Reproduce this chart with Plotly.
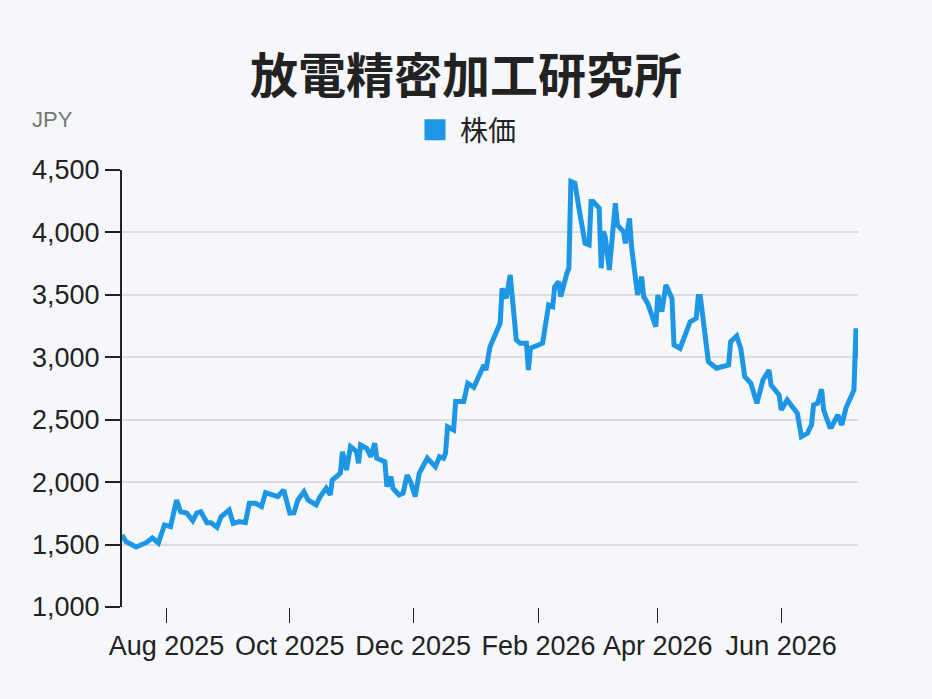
import plotly.graph_objects as go

title_text = "放電精密加工研究所"
series_name = "株価"
unit_label = "JPY"

dates = [
    "2025-07-10", "2025-07-12", "2025-07-17", "2025-07-22", "2025-07-25", "2025-07-28",
    "2025-07-31", "2025-08-03", "2025-08-06", "2025-08-08", "2025-08-11", "2025-08-14",
    "2025-08-16", "2025-08-18", "2025-08-21", "2025-08-23", "2025-08-26", "2025-08-28",
    "2025-09-01", "2025-09-03", "2025-09-06", "2025-09-09", "2025-09-11", "2025-09-14",
    "2025-09-17", "2025-09-19", "2025-09-25", "2025-09-28", "2025-10-01", "2025-10-03",
    "2025-10-05", "2025-10-08", "2025-10-10", "2025-10-14", "2025-10-16", "2025-10-19",
    "2025-10-21", "2025-10-22", "2025-10-26", "2025-10-27", "2025-10-29", "2025-10-31",
    "2025-11-03", "2025-11-04", "2025-11-05", "2025-11-08", "2025-11-10", "2025-11-12",
    "2025-11-13", "2025-11-17", "2025-11-18", "2025-11-20", "2025-11-21", "2025-11-24",
    "2025-11-26", "2025-11-28", "2025-11-30", "2025-12-02", "2025-12-04", "2025-12-08",
    "2025-12-12", "2025-12-14", "2025-12-16", "2025-12-17", "2025-12-18", "2025-12-21",
    "2025-12-22", "2025-12-26", "2025-12-28", "2025-12-31", "2026-01-05", "2026-01-06",
    "2026-01-08", "2026-01-13", "2026-01-14", "2026-01-16", "2026-01-18", "2026-01-21",
    "2026-01-23", "2026-01-26", "2026-01-27", "2026-01-28", "2026-02-03", "2026-02-06",
    "2026-02-08", "2026-02-09", "2026-02-11", "2026-02-12", "2026-02-15", "2026-02-16",
    "2026-02-17", "2026-02-19", "2026-02-21", "2026-02-24", "2026-02-26", "2026-02-27",
    "2026-02-28", "2026-03-03", "2026-03-04", "2026-03-05", "2026-03-06", "2026-03-08",
    "2026-03-11", "2026-03-12", "2026-03-15", "2026-03-16", "2026-03-18", "2026-03-19",
    "2026-03-22", "2026-03-24", "2026-03-25", "2026-03-27", "2026-03-31", "2026-04-01",
    "2026-04-03", "2026-04-05", "2026-04-08", "2026-04-09", "2026-04-12", "2026-04-16",
    "2026-04-17", "2026-04-20", "2026-04-21", "2026-04-22", "2026-04-24", "2026-04-26",
    "2026-04-30", "2026-05-06", "2026-05-07", "2026-05-10", "2026-05-12", "2026-05-14",
    "2026-05-17", "2026-05-20", "2026-05-23", "2026-05-26", "2026-05-27", "2026-05-31",
    "2026-06-01", "2026-06-04", "2026-06-09", "2026-06-11", "2026-06-14", "2026-06-16",
    "2026-06-17", "2026-06-19", "2026-06-21", "2026-06-22", "2026-06-25", "2026-06-26",
    "2026-06-29", "2026-07-01", "2026-07-03", "2026-07-06", "2026-07-07", "2026-07-08",
    "2026-07-09",
]

prices = [
    1577, 1523, 1480, 1515, 1553, 1513,
    1657, 1643, 1857, 1763, 1753, 1691,
    1753, 1763, 1675, 1675, 1638, 1723,
    1777, 1670, 1684, 1675, 1831, 1831,
    1804, 1916, 1884, 1937, 1751, 1753,
    1857, 1923, 1857, 1817, 1884, 1951,
    1897, 2017, 2071, 2244, 2097, 2284,
    2244, 2151, 2298, 2271, 2204, 2311,
    2191, 2164, 1964, 2044, 1951, 1897,
    1911, 2057, 1991, 1884, 2071, 2191,
    2124, 2204, 2191, 2231, 2444, 2418,
    2645, 2645, 2792, 2760, 2938, 2898,
    3085, 3272, 3552, 3472, 3659, 3139,
    3112, 3112, 2898, 3072, 3112, 3419,
    3405, 3566, 3606, 3486, 3673, 3713,
    4407, 4393, 4193, 3913, 3900, 4247,
    4247, 4193, 3713, 4007, 3967, 3699,
    4233, 4060, 4007, 3913, 4113, 3886,
    3499, 3646, 3486, 3432, 3245, 3499,
    3365, 3579, 3472, 3099, 3072, 3259,
    3285, 3312, 3486, 3486, 3205, 2965,
    2912, 2938, 3125, 3171, 3072, 2845,
    2792, 2631, 2818, 2898, 2778, 2698,
    2578, 2658, 2551, 2364, 2391, 2458,
    2618, 2631, 2744, 2578, 2444, 2444,
    2538, 2458, 2591, 2698, 2738, 3232,
    2992,
]

y_range = [1000, 4500]
y_step = 500
x_tick_start = "2025-08-01"

line_color = "#1e96e6"
bg_color = "#f5f7fb"
ink = "#222222"
grid_color = "#dddddd"
font_family = "Liberation Sans, Arial, Helvetica, Noto Sans CJK JP, sans-serif"

fig = go.Figure()
fig.add_trace(go.Scatter(
    x=dates, y=prices, mode="lines", name=series_name, showlegend=False,
    line=dict(color=line_color, width=5),
))
# legend entry drawn as a square swatch
fig.add_trace(go.Scatter(
    x=[dates[0]], y=[None], mode="markers", name=series_name, showlegend=True,
    marker=dict(symbol="square", size=16, color=line_color,
                line=dict(color=line_color, width=5)),
))

fig.update_layout(
    width=932, height=699,
    paper_bgcolor=bg_color, plot_bgcolor=bg_color,
    margin=dict(l=122, r=74, t=170, b=92, autoexpand=False),
    font=dict(family=font_family, color=ink, size=27),
    title=dict(text=f"<b>{title_text}</b>", x=0.5, xref="container", xanchor="center",
               y=1 - 76 / 699, yref="container", yanchor="middle",
               font=dict(size=48, color=ink, family="Noto Sans CJK JP, sans-serif")),
    legend=dict(orientation="h", x=0.5, xref="container", xanchor="center",
                y=1 - 130 / 699, yref="container", yanchor="middle",
                font=dict(size=28, color=ink, family="Noto Sans CJK JP, sans-serif"),
                bgcolor="rgba(0,0,0,0)", itemclick=False, itemwidth=40),
    showlegend=True,
    annotations=[dict(text=unit_label, xref="paper", yref="paper",
                      x=-0.125, y=1.115, xanchor="left", yanchor="middle",
                      showarrow=False, font=dict(size=22, color="#777777"))],
)

fig.update_yaxes(
    range=y_range, dtick=y_step, tick0=y_range[0], tickformat=",",
    showgrid=True, gridcolor=grid_color, gridwidth=1.5,
    showline=True, linecolor=ink, linewidth=2,
    ticks="outside", ticklen=15, tickwidth=2, tickcolor=ink,
    zeroline=False, fixedrange=True,
)
fig.update_xaxes(
    range=[dates[0], dates[-1]], tick0=x_tick_start, dtick="M2", tickformat="%b %Y",
    showgrid=False, showline=False, zeroline=False,
    ticks="outside", ticklen=15, tickwidth=1, tickcolor=ink,
    fixedrange=True,
)

fig.write_html("out.html")
